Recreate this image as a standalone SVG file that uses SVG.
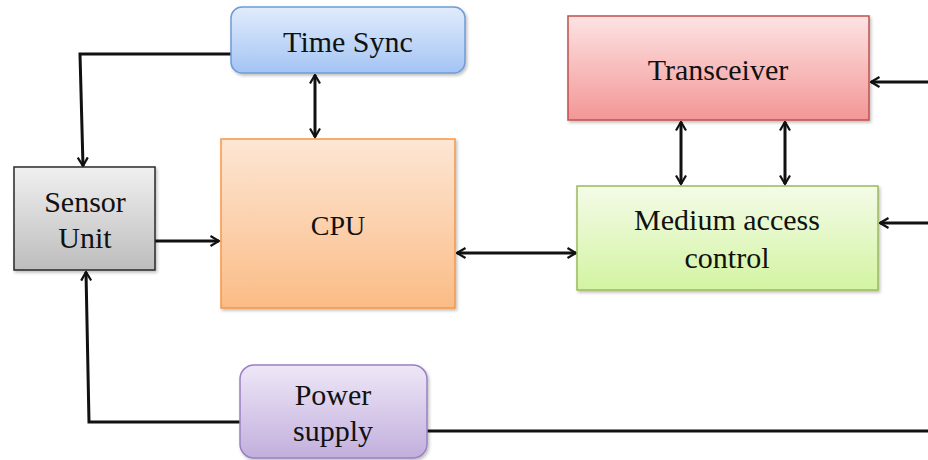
<svg xmlns="http://www.w3.org/2000/svg" width="928" height="460" viewBox="0 0 928 460">
  <style>
    .box { stroke-width: 1.5; filter: url(#shadow); }
    .lbl { font-family: "Liberation Serif", "Times New Roman", serif; font-size: 30px; fill: #111; text-anchor: middle; }
    .wire { fill: none; stroke: #111; stroke-width: 3; }
  </style>
  <defs>
    <linearGradient id="gBlue" x1="0" y1="0" x2="0" y2="1">
      <stop offset="0" stop-color="#e1ecfc"/><stop offset="1" stop-color="#a4c4f4"/>
    </linearGradient>
    <linearGradient id="gOrange" x1="0" y1="0" x2="0" y2="1">
      <stop offset="0" stop-color="#fde6d4"/><stop offset="1" stop-color="#fbbc86"/>
    </linearGradient>
    <linearGradient id="gGray" x1="0" y1="0" x2="0" y2="1">
      <stop offset="0" stop-color="#f0f0f0"/><stop offset="1" stop-color="#bdbdbd"/>
    </linearGradient>
    <linearGradient id="gRed" x1="0" y1="0" x2="0" y2="1">
      <stop offset="0" stop-color="#fde3e3"/><stop offset="1" stop-color="#f39696"/>
    </linearGradient>
    <linearGradient id="gGreen" x1="0" y1="0" x2="0" y2="1">
      <stop offset="0" stop-color="#f4fbe8"/><stop offset="1" stop-color="#d3f4a2"/>
    </linearGradient>
    <linearGradient id="gPurple" x1="0" y1="0" x2="0" y2="1">
      <stop offset="0" stop-color="#eee7f7"/><stop offset="1" stop-color="#c2afdd"/>
    </linearGradient>
    <filter id="shadow" x="-5%" y="-5%" width="115%" height="120%">
      <feDropShadow dx="1.5" dy="2" stdDeviation="1.5" flood-color="#000" flood-opacity="0.25"/>
    </filter>
    <marker id="arrow" viewBox="0 0 12 12" refX="10.5" refY="6" markerWidth="12" markerHeight="12" markerUnits="userSpaceOnUse" orient="auto-start-reverse">
      <path d="M2,1 L10.5,6 L2,11" fill="none" stroke="#111" stroke-width="2.2"/>
    </marker>
  </defs>

  <g id="connectors">
    <!-- Time Sync to Sensor Unit -->
    <path class="wire" d="M231,54 H80 L83,166" marker-end="url(#arrow)"/>
    <!-- Time Sync <-> CPU -->
    <path class="wire" d="M315,75 V137" marker-start="url(#arrow)" marker-end="url(#arrow)"/>
    <!-- Sensor Unit to CPU -->
    <path class="wire" d="M155,241 H219" marker-end="url(#arrow)"/>
    <!-- CPU <-> Medium access control -->
    <path class="wire" d="M457,253 H576" marker-start="url(#arrow)" marker-end="url(#arrow)"/>
    <!-- Transceiver <-> Medium access control -->
    <path class="wire" d="M681,122 V184" marker-start="url(#arrow)" marker-end="url(#arrow)"/>
    <path class="wire" d="M785,122 V184" marker-start="url(#arrow)" marker-end="url(#arrow)"/>
    <!-- incoming lines from the right -->
    <path class="wire" d="M928,82 H871" marker-end="url(#arrow)"/>
    <path class="wire" d="M928,223 H880" marker-end="url(#arrow)"/>
    <!-- Power supply to Sensor Unit -->
    <path class="wire" d="M240,422 H89 L86,272" marker-end="url(#arrow)"/>
    <!-- Power supply to the right -->
    <path class="wire" d="M427,431 H928"/>
  </g>

  <g id="timesync">
    <rect class="box" x="231" y="7" width="234" height="66" rx="11" fill="url(#gBlue)" stroke="#6f9bd6"/>
    <text class="lbl" x="348" y="52">Time Sync</text>
  </g>

  <g id="cpu">
    <rect class="box" x="221" y="139" width="234" height="169" fill="url(#gOrange)" stroke="#f79646"/>
    <text class="lbl" x="338" y="235" style="font-size:28px">CPU</text>
  </g>

  <g id="sensor">
    <rect class="box" x="14" y="167" width="141" height="103" fill="url(#gGray)" stroke="#2a2a2a"/>
    <text class="lbl" x="85" y="212">Sensor</text>
    <text class="lbl" x="85" y="248">Unit</text>
  </g>

  <g id="transceiver">
    <rect class="box" x="568" y="16" width="301" height="104" fill="url(#gRed)" stroke="#c0504d"/>
    <text class="lbl" x="718" y="80">Transceiver</text>
  </g>

  <g id="mac">
    <rect class="box" x="577" y="186" width="301" height="104" fill="url(#gGreen)" stroke="#9bbb59"/>
    <text class="lbl" x="727" y="230">Medium access</text>
    <text class="lbl" x="727" y="268">control</text>
  </g>

  <g id="power">
    <rect class="box" x="240" y="365" width="187" height="93" rx="14" fill="url(#gPurple)" stroke="#9a80c2"/>
    <text class="lbl" x="333" y="405">Power</text>
    <text class="lbl" x="333" y="441">supply</text>
  </g>
</svg>
